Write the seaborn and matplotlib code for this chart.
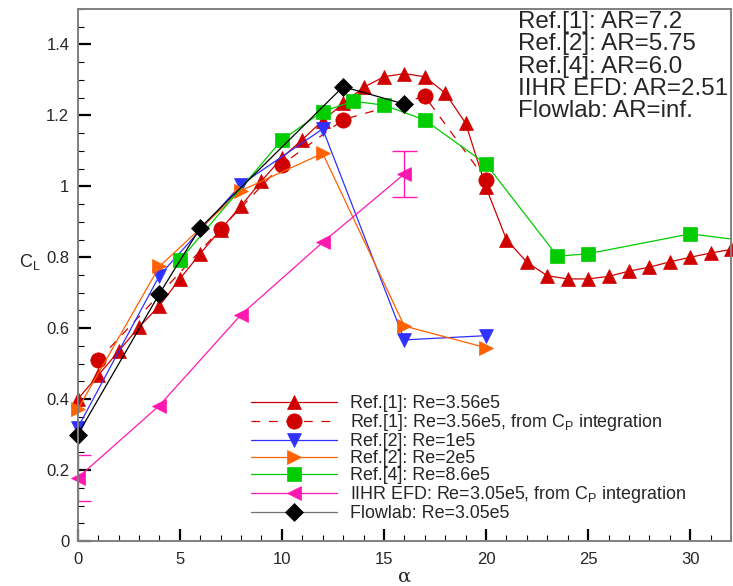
import matplotlib
matplotlib.use("Agg")
import matplotlib.pyplot as plt
from matplotlib.ticker import MultipleLocator, FuncFormatter
from matplotlib.lines import Line2D
import seaborn as sns

# ---- lift coefficient data ----
alpha_ref1 = list(range(0, 33))
cl_ref1 = [0.400, 0.467, 0.535, 0.603, 0.663, 0.739, 0.810, 0.878, 0.945, 1.015,
           1.080, 1.132, 1.185, 1.234, 1.279, 1.309, 1.318, 1.309, 1.263, 1.178,
           0.997, 0.850, 0.786, 0.748, 0.739, 0.739, 0.746, 0.761, 0.772, 0.787,
           0.800, 0.812, 0.822]

alpha_ref1_cp = [1, 7, 10, 13, 17, 20]
cl_ref1_cp = [0.509, 0.880, 1.061, 1.188, 1.254, 1.018]

alpha_ref2 = [0, 4, 8, 12, 16, 20]
cl_ref2_re1e5 = [0.319, 0.748, 1.005, 1.162, 0.567, 0.579]
cl_ref2_re2e5 = [0.371, 0.774, 0.988, 1.093, 0.606, 0.545]

alpha_ref4 = [5, 10, 12, 13.5, 15, 17, 20, 23.5, 25, 30, 35]
cl_ref4 = [0.791, 1.131, 1.211, 1.240, 1.229, 1.187, 1.063, 0.803, 0.810, 0.866, 0.830]

alpha_iihr = [0, 4, 8, 12, 16]
cl_iihr = [0.178, 0.382, 0.638, 0.842, 1.035]
err_iihr = [0.064, 0.0, 0.0, 0.0, 0.066]

alpha_flowlab = [0, 4, 6, 13, 16]
cl_flowlab = [0.300, 0.697, 0.883, 1.281, 1.232]

legend_labels = [
    "Ref.[1]: Re=3.56e5",
    "Ref.[1]: Re=3.56e5, from $\\mathregular{C_P}$ integration",
    "Ref.[2]: Re=1e5",
    "Ref.[2]: Re=2e5",
    "Ref.[4]: Re=8.6e5",
    "IIHR EFD: Re=3.05e5, from $\\mathregular{C_P}$ integration",
    "Flowlab: Re=3.05e5",
]
aspect_notes = [
    "Ref.[1]: AR=7.2",
    "Ref.[2]: AR=5.75",
    "Ref.[4]: AR=6.0",
    "IIHR EFD: AR=2.51",
    "Flowlab: AR=inf.",
]

# ---- style ----
sns.set_style("ticks")
plt.rcParams["font.family"] = ["Liberation Sans", "DejaVu Sans"]
plt.rcParams["mathtext.fontset"] = "custom"
plt.rcParams["mathtext.rm"] = "Liberation Sans"
plt.rcParams["mathtext.it"] = "Liberation Sans"
plt.rcParams["mathtext.default"] = "regular"

RED = "#D00000"
BLUE = "#3030FF"
ORANGE = "#FF6000"
GREEN = "#00CC00"
PINK = "#FF18B0"
BLACK = "#000000"

fig = plt.figure(figsize=(7.33, 5.86), dpi=100)
ax = fig.add_axes([0.106, 0.0768, 0.8913, 0.9078])

# (x, y, colour, marker, size, linestyle)
series = [
    (alpha_ref1, cl_ref1, RED, "^", 10, "-"),
    (alpha_ref1_cp, cl_ref1_cp, RED, "o", 11, (0, (7, 7))),
    (alpha_ref2, cl_ref2_re1e5, BLUE, "v", 10, "-"),
    (alpha_ref2, cl_ref2_re2e5, ORANGE, ">", 10, "-"),
    (alpha_ref4, cl_ref4, GREEN, "s", 10, "-"),
    (alpha_iihr, cl_iihr, PINK, "<", 10, "-"),
    (alpha_flowlab, cl_flowlab, BLACK, "D", 9, "-"),
]

for (xs, ys, c, m, ms, ls) in series:
    # connecting line, clipped to the frame
    sns.lineplot(x=xs, y=ys, ax=ax, sort=False, errorbar=None, color=c,
                 linewidth=0.9, linestyle=ls, legend=False)
    # symbols drawn unclipped so points on the border stay whole
    sns.lineplot(x=xs, y=ys, ax=ax, sort=False, errorbar=None, color=c,
                 linestyle="none", marker=m, markersize=ms, markeredgecolor=c,
                 markeredgewidth=0.5, clip_on=False, legend=False)

# uncertainty of the IIHR measurements
eb_x = [a for a, e in zip(alpha_iihr, err_iihr) if e > 0]
eb_y = [c for c, e in zip(cl_iihr, err_iihr) if e > 0]
eb_e = [e for e in err_iihr if e > 0]
ax.errorbar(eb_x, eb_y, yerr=eb_e, fmt="none", ecolor=PINK, elinewidth=1.0,
            capsize=9, capthick=1.0, zorder=1)

# ---- axes ----
ax.set_xlim(0, 32)
ax.set_ylim(0, 1.5)
ax.xaxis.set_major_locator(MultipleLocator(5))
ax.xaxis.set_minor_locator(MultipleLocator(1))
ax.yaxis.set_major_locator(MultipleLocator(0.2))
ax.yaxis.set_minor_locator(MultipleLocator(0.05))
ax.yaxis.set_major_formatter(
    FuncFormatter(lambda v, p: "%g" % round(v, 3) if v <= 1.41 else ""))
ax.xaxis.set_major_formatter(FuncFormatter(lambda v, p: "%g" % v))

ax.tick_params(which="major", direction="in", length=9, width=1.6, color="black",
               labelsize=12, pad=6)
ax.tick_params(which="minor", direction="in", length=4.5, width=0.8, color="black")
ax.tick_params(axis="x", which="major", pad=8)
ax.tick_params(top=False, right=False, which="both")
for sp in ax.spines.values():
    sp.set_color("#808080")
    sp.set_linewidth(1.4)
    sp.set_zorder(3)

ax.set_xlabel("α", fontsize=14, family=["DejaVu Serif"], va="baseline")
ax.xaxis.set_label_coords(0.50, -0.077)
ax.set_ylabel("$C_L$", fontsize=13, rotation=0)
ax.yaxis.set_label_coords(-0.073, 0.505)

# ---- legend ----
hnd = []
for (xs, ys, c, m, ms, ls) in series:
    lc = "#707070" if m == "D" else c
    hnd.append(Line2D([], [], color=lc, linestyle=ls, linewidth=0.9, marker=m,
                      markersize=ms, markerfacecolor=c, markeredgecolor=c,
                      markeredgewidth=0.5))
ax.legend(hnd, legend_labels, loc="upper left",
          bbox_to_anchor=(251 / 733, 1 - 395 / 586), bbox_transform=fig.transFigure,
          frameon=False, fontsize=12.9, handlelength=4.8, handletextpad=0.75,
          labelspacing=0.0, borderpad=0, borderaxespad=0)

fig.text(518 / 733, 1 - 11 / 586, "\n".join(aspect_notes), fontsize=17.4,
         ha="left", va="top", linespacing=1.02)

fig.savefig("out.png", dpi=100)
